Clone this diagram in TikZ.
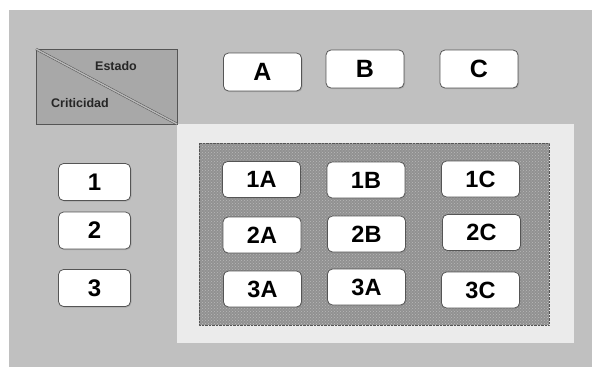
\documentclass[tikz,border=0pt]{standalone}
\usepackage{fontspec}
\setmainfont{Liberation Sans}
\usetikzlibrary{patterns,shadows}

\definecolor{bgGray}{RGB}{192,192,192}
\definecolor{panelGray}{RGB}{235,235,235}
\definecolor{headGray}{RGB}{168,168,168}
\definecolor{gridGray}{RGB}{145,145,145}
\definecolor{dotGray}{RGB}{185,185,185}
\definecolor{lineGray}{RGB}{85,85,85}

\tikzset{
	cellbox/.style={draw=lineGray, fill=white, rounded corners=5pt, line width=0.8pt,
		minimum width=78pt, minimum height=36pt, inner sep=0pt,
		font=\fontsize{23.5}{23.5}\selectfont\bfseries,
		drop shadow={shadow xshift=1pt, shadow yshift=-1pt, opacity=0.35}},
	headbox/.style={cellbox, minimum height=38pt, font=\fontsize{25}{25}\selectfont\bfseries},
	rowbox/.style={cellbox, minimum width=72pt, minimum height=37pt, font=\fontsize{24}{24}\selectfont\bfseries},
	smalltext/.style={font=\fontsize{12.5}{12.5}\selectfont\bfseries, text=black!85}
}

\begin{document}
\begin{tikzpicture}[x=1pt, y=-1pt]
	\useasboundingbox (0,0) rectangle (592,367);
	
	% === Background ===
	\fill[bgGray] (9,10) rectangle (592,367);
	
	% === Light panel and dotted field ===
	\fill[panelGray] (177,124) rectangle (574,343);
	\fill[gridGray] (199,143) rectangle (549,325);
	\fill[pattern=crosshatch dots, pattern color=dotGray] (199,143) rectangle (549,325);
	\draw[densely dotted, lineGray, line width=0.4pt] (199,143) rectangle (549,325);
	
	% === Corner header box ===
	\draw[fill=headGray, draw=lineGray, line width=1pt] (36,49) rectangle (177,124);
	\draw[lineGray, line width=0.5pt, double=gray!55, double distance=1.4pt] (36,49) -- (177,124);
	\node[smalltext] (estado) at (116,66) {Estado};
	\node[smalltext] (criticidad) at (80,103) {Criticidad};
	
	% === Column headers ===
	\node[headbox] (colA) at (262.5,72) {A};
	\node[headbox] (colB) at (365,69) {B};
	\node[headbox] (colC) at (479,69) {C};
	
	% === Row headers ===
	\node[rowbox] (row1) at (94.5,182) {1};
	\node[rowbox] (row2) at (94.5,230.5) {2};
	\node[rowbox] (row3) at (94.5,288) {3};
	
	% === Cells (the middle one of row 3 reads 3A) ===
	\foreach \name/\x/\y/\txt in {c1A/261.5/179.5/1A, c1B/366/180/1B, c1C/480.5/179/1C,
		c2A/262/235/2A, c2B/366.5/234/2B, c2C/481.5/232.5/2C,
		c3A/262.5/289/3A, c3B/366.5/287/3A, c3C/480.5/290/3C}
	\node[cellbox] (\name) at (\x,\y) {\txt};
	
\end{tikzpicture}
\end{document}
